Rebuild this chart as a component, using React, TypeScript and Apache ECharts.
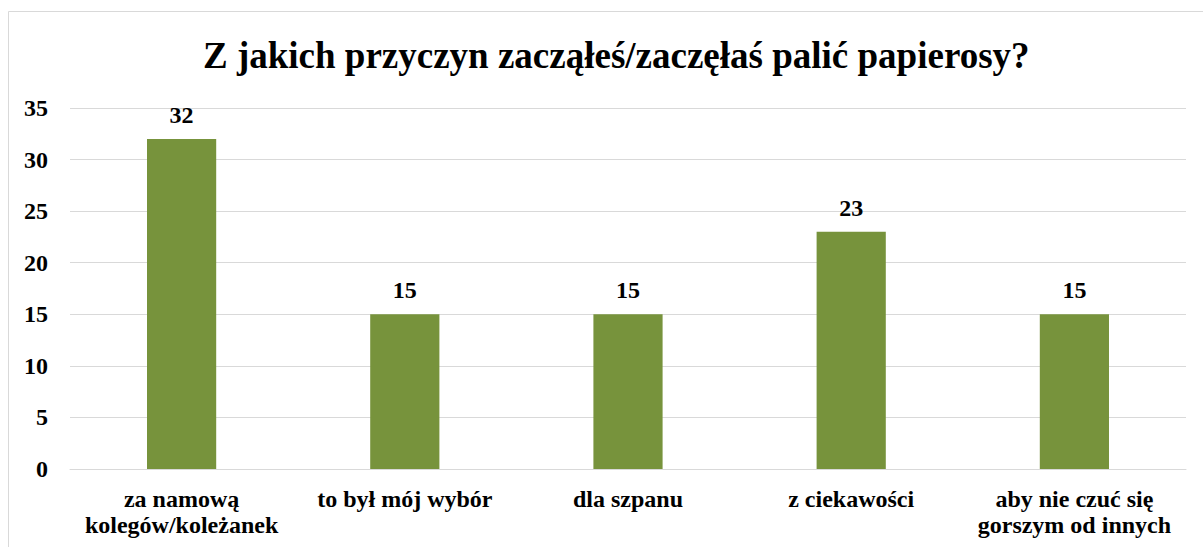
import React, { useEffect, useRef } from "react";
import * as echarts from "echarts";

const titleText = "Z jakich przyczyn zacząłeś/zaczęłaś palić papierosy?";
const categories = [
  "za namową\nkolegów/koleżanek",
  "to był mój wybór",
  "dla szpanu",
  "z ciekawości",
  "aby nie czuć się\ngorszym od innych",
];
const values = [32, 15, 15, 23, 15];
const yTicks = { min: 0, max: 35, interval: 5 };

const FONT = "'Liberation Serif', 'Times New Roman', serif";

export default function App() {
  const ref = useRef<HTMLDivElement>(null);
  useEffect(() => {
    if (!ref.current) return;
    const chart = echarts.init(ref.current, undefined, { renderer: "svg" });
    chart.setOption({
      animation: false,
      backgroundColor: "#ffffff",
      title: {
        text: titleText,
        left: 198,
        top: 32,
        textStyle: { fontFamily: FONT, fontWeight: "bold", fontSize: 37, color: "#000" },
      },
      graphic: [
        {
          type: "rect",
          shape: { x: 8.5, y: 11.5, width: 1400, height: 700 },
          style: { fill: "none", stroke: "#d9d9d9", lineWidth: 1 },
          silent: true,
          z: -1,
        },
      ],
      grid: { left: 70, right: 17, top: 108, bottom: 78, containLabel: false },
      xAxis: {
        type: "category",
        data: categories,
        axisLine: { show: true, lineStyle: { color: "#d9d9d9", width: 1 } },
        axisTick: { show: false },
        axisLabel: {
          fontFamily: FONT,
          fontWeight: "bold",
          fontSize: 24,
          color: "#000",
          margin: 17,
          lineHeight: 26,
          interval: 0,
        },
      },
      yAxis: {
        type: "value",
        min: yTicks.min,
        max: yTicks.max,
        interval: yTicks.interval,
        axisLine: { show: false },
        axisTick: { show: false },
        splitLine: { show: true, lineStyle: { color: "#d9d9d9", width: 1 } },
        axisLabel: {
          fontFamily: FONT,
          fontWeight: "bold",
          fontSize: 24,
          color: "#000",
          margin: 22,
        },
      },
      series: [
        {
          type: "bar",
          data: values,
          barWidth: "31%",
          itemStyle: { color: "#77933C" },
          label: {
            show: true,
            position: "top",
            distance: 12,
            fontFamily: FONT,
            fontWeight: "bold",
            fontSize: 24,
            color: "#000",
          },
        },
      ],
    });
    return () => chart.dispose();
  }, []);
  return (
    <div
      ref={ref}
      style={{ position: "absolute", left: 0, top: 0, width: 1203, height: 547 }}
    />
  );
}
